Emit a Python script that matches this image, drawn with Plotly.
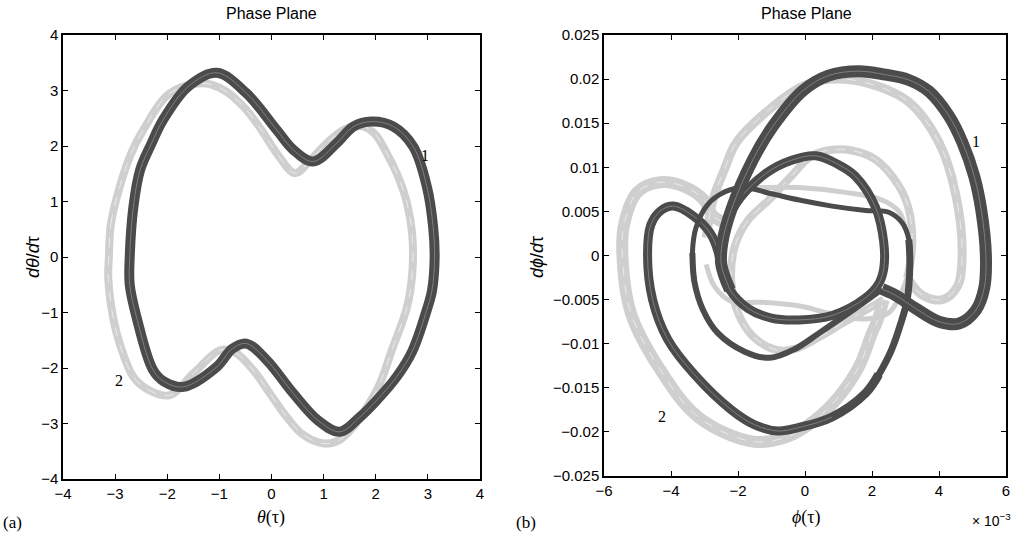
import plotly.graph_objects as go

# ---------------- data ----------------
# Left panel: theta(tau) vs dtheta/dtau
left_x_ticks = [-4, -3, -2, -1, 0, 1, 2, 3, 4]
left_y_ticks = [-4, -3, -2, -1, 0, 1, 2, 3, 4]

# curve 1 (dark)
l1_x = [-2.72, -2.65, -2.52, -2.3, -2.08, -1.6, -1.05, -0.48, 0.1, 0.42, 0.8, 1.25, 1.57, 1.92,
        2.34, 2.72, 2.98, 3.1, 3.13, 3.08, 2.98, 2.7, 2.4, 2.0, 1.7, 1.31, 0.9, 0.42, -0.09,
        -0.48, -0.75, -1.05, -1.69, -2.05, -2.27, -2.59, -2.72, -2.72]
l1_y = [0.0, 0.9, 1.57, 2.05, 2.47, 3.07, 3.32, 2.95, 2.29, 1.93, 1.72, 2.05, 2.35, 2.44,
        2.35, 1.99, 1.27, 0.55, 0.0, -0.6, -0.95, -1.7, -2.16, -2.6, -2.88, -3.15, -2.95, -2.46,
        -1.86, -1.56, -1.65, -1.98, -2.34, -2.25, -2.04, -1.08, -0.5, 0.0]

# curve 2 (light)
l2_x = [-3.12, -3.08, -2.91, -2.7, -2.46, -1.95, -1.31, -0.9, -0.54, -0.2, 0.1, 0.45, 0.75,
        1.06, 1.4, 1.76, 2.0, 2.21, 2.45, 2.6, 2.7, 2.7, 2.6, 2.3, 2.08, 1.8, 1.57, 1.3, 1.0,
        0.6, 0.29, 0.0, -0.35, -0.7, -0.99, -1.5, -1.95, -2.35, -2.65, -2.9, -3.04, -3.13, -3.12]
l2_y = [0.0, 0.6, 1.27, 1.85, 2.29, 2.95, 3.13, 3.0, 2.71, 2.3, 1.87, 1.51, 1.75,
        2.05, 2.3, 2.35, 2.2, 1.87, 1.4, 0.97, 0.4, -0.3, -0.9, -1.7, -2.28, -2.75, -3.06, -3.3,
        -3.36, -3.2, -2.88, -2.5, -2.04, -1.72, -1.68, -2.1, -2.49, -2.4, -2.16, -1.6, -1.08,
        -0.4, 0.0]

# Right panel: phi(tau) [x 1e-3] vs dphi/dtau
right_x_ticks = [-6, -4, -2, 0, 2, 4, 6]
right_y_ticks = [-0.025, -0.02, -0.015, -0.01, -0.005, 0, 0.005, 0.01, 0.015, 0.02, 0.025]
right_y_labels = ["\u22120.025", "\u22120.02", "\u22120.015", "\u22120.01", "\u22120.005", "0",
                  "0.005", "0.01", "0.015", "0.02", "0.025"]

# curve 1 (dark) pieces
r1_arch_x = [-2.24, -2.5, -2.47, -2.2, -1.55, -0.95, -0.06, 0.7, 1.61, 2.4, 3.1, 3.7,
             4.3, 4.7, 5.05, 5.26, 5.4, 5.35, 5.1, 4.6, 4.0, 3.3, 2.7, 2.3]
r1_arch_y = [-0.0039, -0.001, 0.0014, 0.0052, 0.0109, 0.0147, 0.0187, 0.0204, 0.0209,
             0.0205, 0.0199, 0.0186, 0.0158, 0.0128, 0.009, 0.0052, 0.0, -0.0037, -0.0062,
             -0.0077, -0.0075, -0.006, -0.0045, -0.0038]

r1_ring_x = [-2.45, -2.4, -2.07, -1.17, -0.4, 0.32, 1.0, 1.5, 2.1, 2.35, 2.35, 2.2, 1.81, 0.81,
             -0.18, -1.0, -1.7, -2.24, -2.45]
r1_ring_y = [-0.002, 0.0026, 0.0058, 0.0093, 0.0108, 0.0113, 0.0103, 0.009, 0.0055, 0.0015,
             -0.0015, -0.0032, -0.0048, -0.0068, -0.0073, -0.0071, -0.006, -0.0039, -0.002]

r1_inner_x = [2.3, 1.31, 0.42, -0.3, -1.05, -1.8, -2.6, -3.04, -3.3, -3.36]
r1_inner_y = [-0.0038, -0.0065, -0.0088, -0.0106, -0.0116, -0.0109, -0.0088, -0.0062, -0.003,
              0.0003]

r1_mid_x = [-3.3, -3.36, -3.25, -2.9, -2.4, -1.85, -1.0, -0.06, 0.81, 1.81, 2.5, 2.9, 3.1, 3.13]
r1_mid_y = [-0.003, 0.0003, 0.0032, 0.0058, 0.0072, 0.0077, 0.007, 0.0062, 0.0056, 0.0051,
            0.0049, 0.0037, 0.0018, -0.001]

r1_desc_x = [3.1, 3.13, 3.05, 2.85, 2.5, 1.81, 0.81]
r1_desc_y = [0.0018, -0.001, -0.005, -0.0078, -0.0114, -0.0156, -0.0183]

r1_outer_x = [2.2, 1.81, 0.81, -0.18, -0.8, -1.5, -2.2, -3.3, -4.1, -4.55, -4.7, -4.6, -4.3,
              -3.93, -3.34, -2.84, -2.6, -2.5]
r1_outer_y = [-0.0135, -0.0156, -0.0183, -0.0195, -0.0199, -0.0192, -0.0175, -0.0135, -0.0095,
              -0.005, 0.0, 0.0035, 0.0051, 0.0056, 0.0045, 0.0026, 0.0005, -0.0015]

# curve 2 (light) pieces
r2_arch_x = [-2.95, -2.74, -2.4, -2.05, -1.05, -0.06, 0.81, 1.81, 3.1, 4.0, 4.49, 4.69, 4.55,
             4.1, 3.5, 3.05]
r2_arch_y = [0.002, 0.0064, 0.0098, 0.0128, 0.0166, 0.0192, 0.02, 0.0196, 0.0174, 0.0128,
             0.0071, 0.0, -0.0035, -0.005, -0.0045, -0.0025]

r2_ring_x = [3.05, 3.2, 3.1, 2.8, 2.1, 1.4, 0.81, 0.2, -0.46, -1.05, -1.7, -2.1, -2.2, -2.0,
             -1.55, -0.86, -0.3, 0.4, 1.2, 1.9, 2.35]
r2_ring_y = [-0.0025, 0.001, 0.0052, 0.0079, 0.0109, 0.0119, 0.012, 0.0113, 0.0088, 0.0064,
             0.004, 0.001, -0.003, -0.0065, -0.0092, -0.0107, -0.0106, -0.0093, -0.0075, -0.006,
             -0.005]

r2_outer_x = [2.35, 2.15, 2.0, 1.61, 1.01, 0.32, -0.5, -1.55, -3.19, -4.38, -5.2, -5.45, -5.4,
              -5.0, -4.33, -3.6, -3.04, -2.75, -2.45]
r2_outer_y = [-0.005, -0.0075, -0.0088, -0.0126, -0.016, -0.0186, -0.0205, -0.0211, -0.0183,
              -0.0126, -0.0065, 0.0, 0.0035, 0.0072, 0.0083, 0.0078, 0.0064, 0.0045, 0.0038]

r2_up_x = [-2.7, -2.2, -1.2, -0.18, 1.31, 2.3, 2.8, 3.0]
r2_up_y = [0.0068, 0.0075, 0.0077, 0.0077, 0.0071, 0.0063, 0.005, 0.003]

r2_low_x = [-2.95, -2.7, -2.2, -1.3, -0.2, 0.8, 1.81, 2.5, 2.9, 3.05]
r2_low_y = [-0.001, -0.0035, -0.0052, -0.0053, -0.0057, -0.0066, -0.0072, -0.0065, -0.004,
            -0.0025]

# ---------------- figure ----------------
W, H = 1020, 544
DARK = "#4b4b4b"
DARK_STREAK = "#8a8a8a"
LIGHT = "#cfcfcf"
LIGHT_STREAK = "#ececec"

fig = go.Figure()


def add(xs, ys, color, width, axis, streak=None):
    ax = dict(xaxis="x" if axis == 1 else "x2", yaxis="y" if axis == 1 else "y2")
    fig.add_trace(go.Scatter(x=xs, y=ys, mode="lines",
                             line=dict(color=color, width=width, shape="spline", smoothing=1.0),
                             hoverinfo="skip", showlegend=False, **ax))
    if streak is not None:
        fig.add_trace(go.Scatter(x=xs, y=ys, mode="lines",
                                 line=dict(color=streak[0], width=streak[1], dash=streak[2],
                                           shape="spline", smoothing=1.0),
                                 hoverinfo="skip", showlegend=False, **ax))


LS = (LIGHT_STREAK, 1, "dash")
DS = (DARK_STREAK, 0.8, "solid")

# left panel
add(l2_x, l2_y, LIGHT, 8, 1, LS)
add(l1_x, l1_y, DARK, 10, 1, DS)

# right panel - light first
add(r2_outer_x, r2_outer_y, LIGHT, 12, 2, LS)
add(r2_arch_x, r2_arch_y, LIGHT, 9, 2, LS)
add(r2_ring_x, r2_ring_y, LIGHT, 8, 2, LS)
add(r2_up_x, r2_up_y, LIGHT, 5, 2)
add(r2_low_x, r2_low_y, LIGHT, 5, 2)
# dark
add(r1_outer_x, r1_outer_y, DARK, 9, 2, DS)
add(r1_desc_x, r1_desc_y, DARK, 7, 2)
add(r1_inner_x, r1_inner_y, DARK, 6, 2)
add(r1_mid_x, r1_mid_y, DARK, 5, 2)
add(r1_ring_x, r1_ring_y, DARK, 9, 2, DS)
add(r1_arch_x, r1_arch_y, DARK, 12, 2, DS)

tickfont = dict(family="Liberation Sans, Arial, sans-serif", size=15, color="black")
axis_common = dict(showline=True, linecolor="black", linewidth=1.5, mirror="ticks",
                   ticks="inside", ticklen=5, tickwidth=1, tickcolor="black",
                   showgrid=False, zeroline=False, tickfont=tickfont, fixedrange=True,
                   automargin=False)


def tl(v):
    return str(v).replace("-", "\u2212")


fig.update_layout(
    template="none",
    width=W, height=H, margin=dict(l=0, r=0, t=0, b=0, pad=0, autoexpand=False),
    paper_bgcolor="white", plot_bgcolor="white",
    xaxis=dict(domain=[63 / W, 480 / W], range=[-4, 4], tickvals=left_x_ticks,
               ticktext=[tl(v) for v in left_x_ticks], anchor="y", **axis_common),
    yaxis=dict(domain=[1 - 479 / H, 1 - 35 / H], range=[-4, 4], tickvals=left_y_ticks,
               ticktext=[tl(v) for v in left_y_ticks], anchor="x", **axis_common),
    xaxis2=dict(domain=[604 / W, 1006 / W], range=[-6, 6], tickvals=right_x_ticks,
                ticktext=[tl(v) for v in right_x_ticks], anchor="y2", **axis_common),
    yaxis2=dict(domain=[1 - 476 / H, 1 - 35 / H], range=[-0.025, 0.025],
                tickvals=right_y_ticks, ticktext=right_y_labels, anchor="x2", **axis_common),
)

sans = "Liberation Sans, Arial, sans-serif"
serif = "Liberation Serif, Times New Roman, serif"


def ann(text, px, py, size, family, angle=0, xanchor="center"):
    fig.add_annotation(text=text, x=px / W, y=1 - py / H, xref="paper", yref="paper",
                       showarrow=False, textangle=angle, xanchor=xanchor, yanchor="middle",
                       font=dict(family=family, size=size, color="black"))


ann("Phase Plane", 271, 13, 16, sans)
ann("Phase Plane", 806, 13, 16, sans)
ann("<i>θ</i>(τ)", 271, 517, 18, serif)
ann("<i>ϕ</i>(τ)", 806, 517, 18, serif)
ann("<i>dθ</i>/<i>d</i>τ", 33, 257, 18, sans, angle=-90)
ann("<i>dϕ</i>/<i>d</i>τ", 537, 257, 18, sans, angle=-90)
ann("(a)", 1, 522, 17, serif, xanchor="left")
ann("(b)", 514, 522, 17, serif, xanchor="left")
ann("× 10<sup>\u22123</sup>", 991, 520, 14, sans)

# curve labels (data coordinates)
lab = dict(family=serif, size=16, color="black")
fig.add_annotation(text="1", x=2.95, y=1.82, xref="x", yref="y", showarrow=False, font=lab)
fig.add_annotation(text="2", x=-2.92, y=-2.22, xref="x", yref="y", showarrow=False, font=lab)
fig.add_annotation(text="1", x=5.09, y=0.0129, xref="x2", yref="y2", showarrow=False, font=lab)
fig.add_annotation(text="2", x=-4.28, y=-0.0183, xref="x2", yref="y2", showarrow=False, font=lab)

fig.write_html("out.html", config={"displayModeBar": False},
               post_script="document.body.style.margin='0px';document.body.style.overflow='hidden';")
